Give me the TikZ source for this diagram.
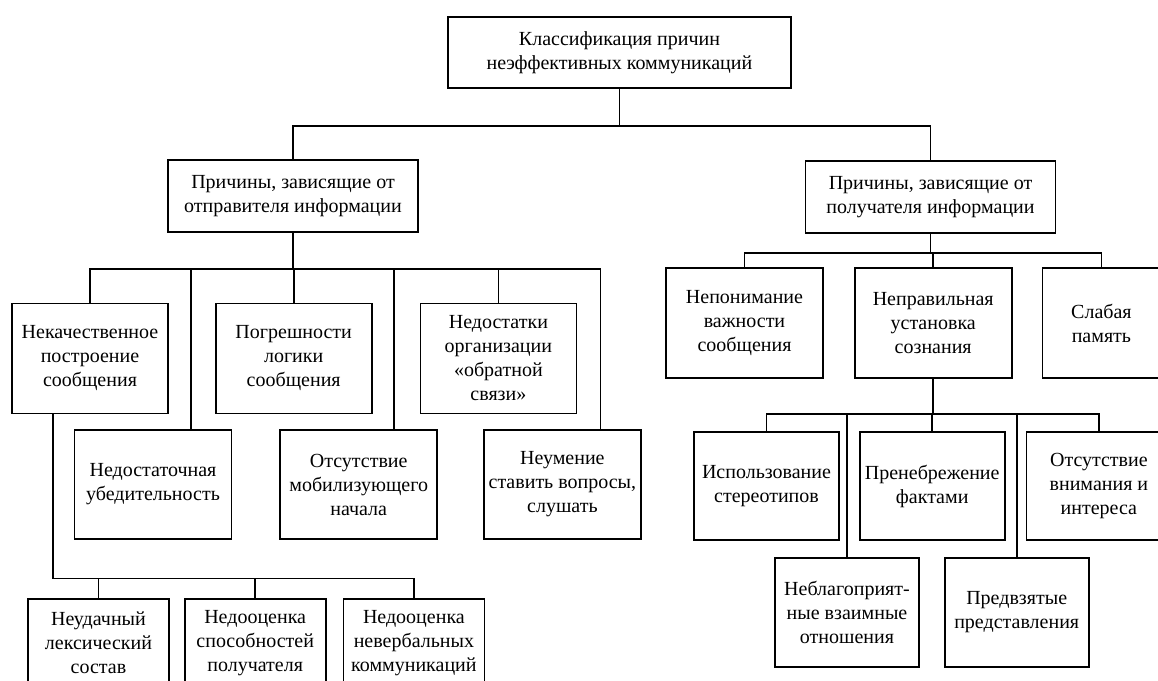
\documentclass[tikz,border=0pt]{standalone}
\usepackage{fontspec}
\setmainfont{Liberation Serif}
\usetikzlibrary{positioning}

\begin{document}
\begin{tikzpicture}[
    x=1pt, y=-1pt,
    causebox/.style={draw, line width=1.7pt, align=center, inner sep=2pt,
        font=\fontsize{20}{24}\selectfont, minimum width=156pt, minimum height=110pt},
    headbox/.style={causebox, minimum width=250pt, minimum height=72pt},
    link/.style={line width=1.7pt}
]
    \useasboundingbox (0,0) rectangle (1158,680);
    \clip (0,0) rectangle (1158,680);

    % top and the two groups
    \node[headbox, minimum width=343pt, minimum height=71pt] at (619.5,52.5) (root) {Классификация причин\\неэффективных коммуникаций};
    \node[headbox] at (293,196) (snd) {Причины, зависящие от\\отправителя информации};
    \node[headbox] at (930.5,197) (rcv) {Причины, зависящие от\\получателя информации};

    % sender side
    \node[causebox] at (90,358.5) (nek) {Некачественное\\построение\\сообщения};
    \node[causebox, right=46pt of nek] (pogr) {Погрешности\\логики\\сообщения};
    \node[causebox, right=47pt of pogr] (nedor) {Недостатки\\организации\\«обратной\\связи»};

    \node[causebox, minimum width=157pt, minimum height=109pt] at (153,484.5) (nedub) {Недостаточная\\убедительность};
    \node[causebox, minimum width=157pt, minimum height=109pt, right=47pt of nedub] (mobil) {Отсутствие\\мобилизующего\\начала};
    \node[causebox, minimum width=157pt, minimum height=109pt, right=45pt of mobil] (neum) {Неумение\\ставить вопросы,\\слушать};

    \node[causebox, minimum width=141pt, minimum height=88pt] at (98.5,643) (leks) {Неудачный\\лексический\\состав};
    \node[causebox, minimum width=141pt, minimum height=88pt, right=14pt of leks] (spos) {Недооценка\\способностей\\получателя};
    \node[causebox, minimum width=141pt, minimum height=88pt, right=16pt of spos] (nevb) {Недооценка\\невербальных\\коммуникаций};

    % receiver side
    \node[causebox, minimum width=157pt] at (744.5,323) (nepon) {Непонимание\\важности\\сообщения};
    \node[causebox, minimum width=157pt, right=30pt of nepon] (neprav) {Неправильная\\установка\\сознания};
    \node[causebox, minimum width=118pt, right=29pt of neprav] (slab) {Слабая\\память};

    \node[causebox, minimum width=145pt, minimum height=108pt] at (766.5,486) (isp) {Использование\\стереотипов};
    \node[causebox, minimum width=145pt, minimum height=108pt, right=19pt of isp] (preneb) {Пренебрежение\\фактами};
    \node[causebox, minimum width=145pt, minimum height=108pt, right=20pt of preneb] (otsv) {Отсутствие\\внимания и\\интереса};

    \node[causebox, minimum width=144pt, minimum height=109pt] at (847,612.5) (neblag) {Неблагоприят-\\ные взаимные\\отношения};
    \node[causebox, minimum width=144pt, minimum height=109pt, right=24pt of neblag] (predv) {Предвзятые\\представления};

    % connectors
    \draw[link] (root.south) -- ++(0,37) -| (snd.north);
    \draw[link] (root.south) -- ++(0,37) -| (rcv.north);

    \draw[link] (snd.south) -- ++(0,36) -| (nek.north);
    \draw[link] (snd.south) -- ++(0,36) -| (pogr.north);
    \draw[link] (snd.south) -- ++(0,36) -| (nedor.north);
    \draw[link] (snd.south) -- ++(0,36) -| ([xshift=38pt]nedub.north);
    \draw[link] (snd.south) -- ++(0,36) -| ([xshift=35pt]mobil.north);
    \draw[link] (snd.south) -- ++(0,36) -| ([xshift=38pt]neum.north);

    \draw[link] ([xshift=-37pt]nek.south) -- ++(0,164) -| (leks.north);
    \draw[link] ([xshift=-37pt]nek.south) -- ++(0,164) -| (spos.north);
    \draw[link] ([xshift=-37pt]nek.south) -- ++(0,164) -| (nevb.north);

    \draw[link] (rcv.south) -- ++(0,19) -| (nepon.north);
    \draw[link] (rcv.south) -- ++(0,19) -| (neprav.north);
    \draw[link] (rcv.south) -- ++(0,19) -| (slab.north);

    \draw[link] (neprav.south) -- ++(0,35) -| (isp.north);
    \draw[link] (neprav.south) -- ++(0,35) -| (preneb.north);
    \draw[link] (neprav.south) -- ++(0,35) -| (otsv.north);
    \draw[link] (neprav.south) -- ++(0,35) -| (neblag.north);
    \draw[link] (neprav.south) -- ++(0,35) -| (predv.north);
\end{tikzpicture}
\end{document}
